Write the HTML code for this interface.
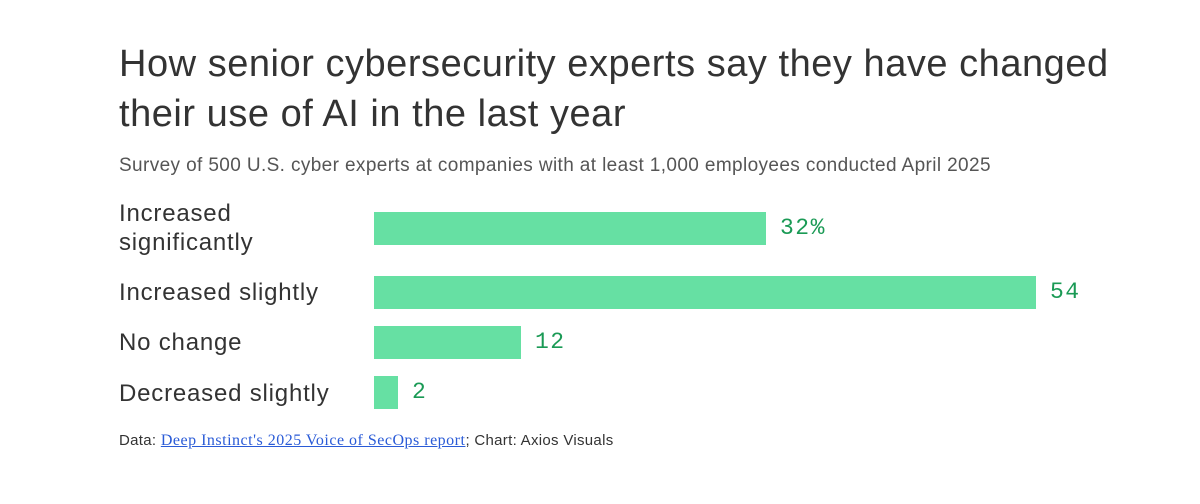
<!DOCTYPE html>
<html><head><style>
body{margin:0;width:1200px;height:504px;background:#fff;font-family:"Liberation Sans",sans-serif;position:relative;overflow:hidden}
.t{position:absolute;left:119px;top:39px;font-size:38px;line-height:50px;color:#333;letter-spacing:0.53px;white-space:nowrap}
.s{position:absolute;left:119px;top:155px;font-size:19px;color:#555;letter-spacing:0.38px;white-space:nowrap}
.l{position:absolute;left:119px;font-size:24px;color:#333;line-height:29px;letter-spacing:0.8px}
.b{position:absolute;left:374px;height:33px;background:#66e0a3}
.v{position:absolute;font-family:"Liberation Mono",monospace;font-size:23px;color:#1a9a55;letter-spacing:1.5px}
.f{position:absolute;left:119px;top:432px;font-size:15px;color:#333;white-space:nowrap;letter-spacing:0.3px}
.f a{font-family:"Liberation Serif",serif;color:#2a5bd7;text-decoration:underline;font-size:16px;letter-spacing:0.5px}
</style></head><body>
<div class="t">How senior cybersecurity experts say they have changed<br>their use of AI in the last year</div>
<div class="s">Survey of 500 U.S. cyber experts at companies with at least 1,000 employees conducted April 2025</div>
<div class="l" style="top:199px">Increased<br>significantly</div>
<div class="l" style="top:278px">Increased slightly</div>
<div class="l" style="top:328px">No change</div>
<div class="l" style="top:379px">Decreased slightly</div>
<div class="b" style="top:212px;width:392px"></div><div class="v" style="left:780px;top:215px">32%</div>
<div class="b" style="top:276px;width:662px"></div><div class="v" style="left:1050px;top:279px">54</div>
<div class="b" style="top:326px;width:147px"></div><div class="v" style="left:535px;top:329px">12</div>
<div class="b" style="top:376px;width:24px"></div><div class="v" style="left:412px;top:379px">2</div>
<div class="f">Data: <a>Deep Instinct's 2025 Voice of SecOps report</a>; Chart: Axios Visuals</div>
</body></html>
